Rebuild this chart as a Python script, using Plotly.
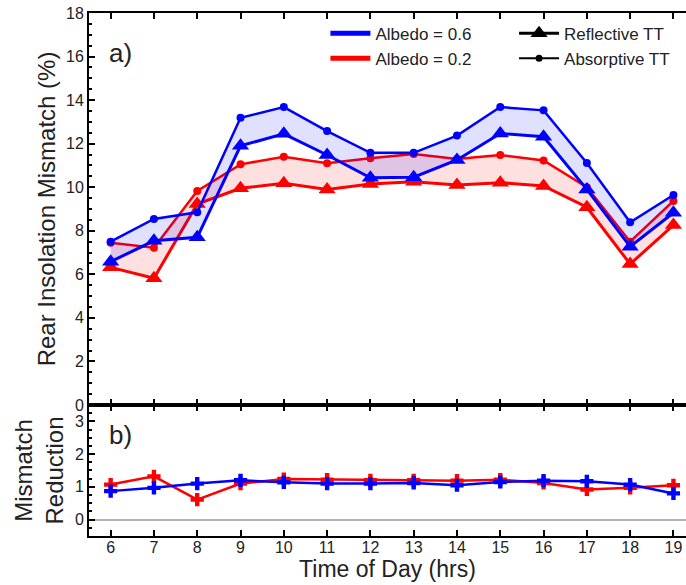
import plotly.graph_objects as go

# Hour of day
hours = [6, 7, 8, 9, 10, 11, 12, 13, 14, 15, 16, 17, 18, 19]

# Rear insolation mismatch (%), albedo 0.6
blue_absorptive = [7.50, 8.54, 8.85, 13.19, 13.68, 12.58, 11.58, 11.58, 12.37, 13.68, 13.53, 11.11, 8.39, 9.64]
blue_reflective = [6.58, 7.54, 7.70, 11.90, 12.45, 11.48, 10.43, 10.46, 11.25, 12.47, 12.32, 9.90, 7.27, 8.83]

# Rear insolation mismatch (%), albedo 0.2
red_absorptive = [7.45, 7.22, 9.83, 11.05, 11.40, 11.10, 11.33, 11.52, 11.30, 11.48, 11.23, 10.00, 7.50, 9.37]
red_reflective = [6.32, 5.82, 9.23, 9.95, 10.18, 9.90, 10.15, 10.25, 10.10, 10.21, 10.06, 9.08, 6.47, 8.26]

# Mismatch reduction
red_reduction = [1.07, 1.32, 0.61, 1.10, 1.24, 1.22, 1.20, 1.20, 1.19, 1.22, 1.12, 0.92, 0.97, 1.05]
blue_reduction = [0.87, 0.97, 1.10, 1.20, 1.14, 1.10, 1.10, 1.12, 1.05, 1.15, 1.19, 1.17, 1.07, 0.80]

BLUE = "#0000ff"
RED = "#ff0000"
FONT = "Liberation Sans, Arial, sans-serif"
TXT = "#222222"

fig = go.Figure()

# Top panel: red pair first, blue pair drawn over it
for abs_vals, ref_vals, col, fillcol in [
    (red_absorptive, red_reflective, RED, "rgba(255,0,0,0.12)"),
    (blue_absorptive, blue_reflective, BLUE, "rgba(0,0,255,0.12)"),
]:
    fig.add_trace(go.Scatter(
        x=hours, y=abs_vals, mode="lines+markers",
        line=dict(color=col, width=2.5),
        marker=dict(symbol="circle", size=8, color=col),
        showlegend=False, xaxis="x", yaxis="y"))
    fig.add_trace(go.Scatter(
        x=hours, y=ref_vals, mode="lines+markers",
        line=dict(color=col, width=3),
        marker=dict(symbol="triangle-up", size=15, color=col),
        fill="tonexty", fillcolor=fillcol,
        showlegend=False, xaxis="x", yaxis="y"))

# Bottom panel
for vals, col in [(red_reduction, RED), (blue_reduction, BLUE)]:
    fig.add_trace(go.Scatter(
        x=hours, y=vals, mode="lines+markers",
        line=dict(color=col, width=2.5),
        marker=dict(symbol="cross", size=11, color=col),
        showlegend=False, xaxis="x2", yaxis="y2"))

# Legend entries
fig.add_trace(go.Scatter(x=[None], y=[None], mode="lines", name="Albedo = 0.6",
                         line=dict(color=BLUE, width=5), legend="legend"))
fig.add_trace(go.Scatter(x=[None], y=[None], mode="lines", name="Albedo = 0.2",
                         line=dict(color=RED, width=5), legend="legend"))
fig.add_trace(go.Scatter(x=[None], y=[None], mode="lines+markers", name="Reflective TT",
                         line=dict(color="black", width=3),
                         marker=dict(symbol="triangle-up", size=15, color="black"),
                         legend="legend2"))
fig.add_trace(go.Scatter(x=[None], y=[None], mode="lines+markers", name="Absorptive TT",
                         line=dict(color="black", width=2),
                         marker=dict(symbol="circle", size=7, color="black"),
                         legend="legend2"))

split = 0.2505
xrange = [5.5, 19.29]

common_x = dict(range=xrange, tickvals=hours, ticks="inside", ticklen=6, tickwidth=2,
                tickcolor="black", showline=True, linewidth=2, linecolor="black",
                mirror="ticks", showgrid=False, zeroline=False)
common_y = dict(ticks="inside", ticklen=6, tickwidth=2, tickcolor="black",
                showline=True, linewidth=2, linecolor="black", showgrid=False,
                tickfont=dict(size=16, color=TXT))

fig.update_layout(
    width=686, height=585,
    margin=dict(l=89, r=0, t=13, b=49),
    paper_bgcolor="white", plot_bgcolor="white",
    font=dict(family=FONT, color=TXT, size=16),
    xaxis=dict(domain=[0, 1], anchor="y", showticklabels=False, **common_x),
    yaxis=dict(domain=[split, 1], anchor="x", range=[0, 18], dtick=2,
               minor=dict(dtick=0.5, ticks="inside", ticklen=3, tickwidth=1.5, tickcolor="black"),
               zeroline=False,
               title=dict(text="Rear Insolation Mismatch (%)", font=dict(size=24, color=TXT), standoff=4),
               **common_y),
    xaxis2=dict(domain=[0, 1], anchor="y2", showticklabels=True,
                tickfont=dict(size=16, color=TXT), ticklabelstandoff=-4,
                title=dict(text="Time of Day (hrs)", font=dict(size=23, color=TXT), standoff=0),
                **common_x),
    yaxis2=dict(domain=[0, split], anchor="x2", range=[-0.5, 3.5], tickvals=[0, 1, 2, 3],
                minor=dict(dtick=0.25, ticks="inside", ticklen=3, tickwidth=1.5, tickcolor="black"),
                zeroline=True, zerolinecolor="#b0b0b0", zerolinewidth=1.5,
                title=dict(text="Mismatch<br>Reduction", font=dict(size=24, color=TXT), standoff=4),
                **common_y),
    legend=dict(x=0.396, y=0.995, xanchor="left", yanchor="top", bgcolor="rgba(0,0,0,0)",
                font=dict(size=17, color=TXT), tracegroupgap=0, itemwidth=40,
                traceorder="normal"),
    legend2=dict(x=0.712, y=0.995, xanchor="left", yanchor="top", bgcolor="rgba(0,0,0,0)",
                 font=dict(size=17, color=TXT), tracegroupgap=0, itemwidth=40,
                 traceorder="normal"),
    annotations=[
        dict(text="a)", xref="paper", yref="paper", x=0.03, y=0.9235,
             xanchor="left", yanchor="middle", showarrow=False, font=dict(size=26, color=TXT)),
        dict(text="b)", xref="paper", yref="paper", x=0.03, y=0.193,
             xanchor="left", yanchor="middle", showarrow=False, font=dict(size=26, color=TXT)),
    ],
)

fig.write_html("out.html")
